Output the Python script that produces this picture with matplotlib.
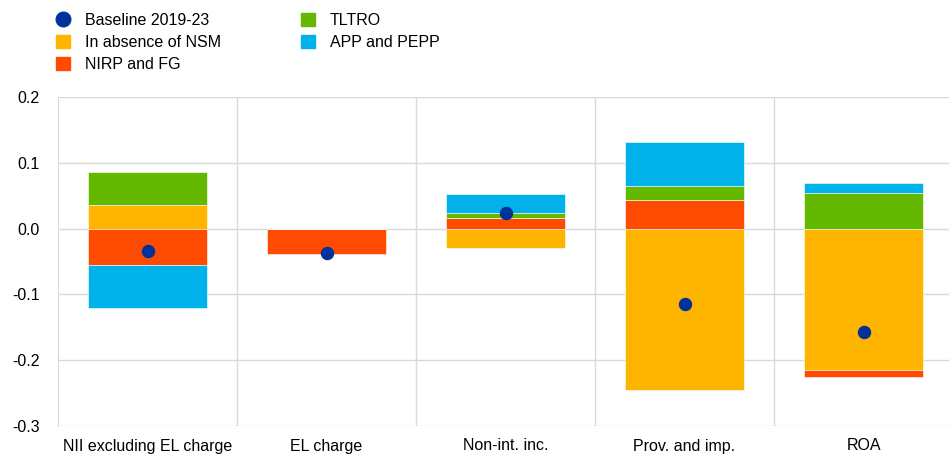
import matplotlib.pyplot as plt
from matplotlib.lines import Line2D
from matplotlib.patches import Patch
import numpy as np

plt.rcParams['font.family'] = ['Liberation Sans', 'DejaVu Sans']

categorias = ['NII excluding EL charge', 'EL charge', 'Non-int. inc.', 'Prov. and imp.', 'ROA']
baseline = [-0.034, -0.037, 0.023, -0.114, -0.157]
sem_nsm = [0.0365, 0.0, -0.029, -0.245, -0.2146]
nirp_fg = [-0.055, -0.038, 0.0157, 0.044, -0.0102]
tltro = [0.049, 0.0, 0.0076, 0.020, 0.054]
app_pepp = [-0.065, 0.0, 0.030, 0.068, 0.015]

series = [
    ('In absence of NSM', sem_nsm, '#FFB400'),
    ('NIRP and FG', nirp_fg, '#FF4B00'),
    ('TLTRO', tltro, '#65B800'),
    ('APP and PEPP', app_pepp, '#00B1EA'),
]

fig = plt.figure(figsize=(9.49, 4.55), dpi=100)
ax = fig.add_axes([58 / 949, 1 - 426 / 455, 895 / 949, 329 / 455])

x = np.arange(len(categorias))
base_pos = np.zeros(len(categorias))
base_neg = np.zeros(len(categorias))
for nome, vals, cor in series:
    vals = np.array(vals)
    fundo = np.where(vals >= 0, base_pos, base_neg)
    ax.bar(x, vals, bottom=fundo, width=0.665, color=cor, edgecolor='white',
           linewidth=0.4, zorder=2)
    base_pos = base_pos + np.clip(vals, 0, None)
    base_neg = base_neg + np.clip(vals, None, 0)

ax.scatter(x, baseline, s=75, color='#003299', zorder=3)

ax.set_xlim(-0.5, len(categorias) - 0.5)
ax.set_ylim(-0.3, 0.2)
ax.set_yticks(np.arange(-0.3, 0.21, 0.1))
ax.set_yticklabels([f'{v:.1f}' for v in np.arange(-0.3, 0.21, 0.1)])
ax.set_xticks(x)
ax.set_xticklabels(categorias)
ax.tick_params(length=0, labelsize=11.5, colors='black')
ax.tick_params(axis='y', pad=13)
ax.tick_params(axis='x', pad=9)

ax.grid(axis='y', color='#d9d9d9', linewidth=1, zorder=0)
for b in np.arange(0.5, len(categorias) - 0.5, 1):
    ax.axvline(b, color='#d9d9d9', linewidth=1, zorder=0)
for lado in ['top', 'right', 'bottom']:
    ax.spines[lado].set_visible(False)
ax.spines['left'].set_color('#d9d9d9')

handles = [Line2D([], [], marker='o', linestyle='none', color='#003299', markersize=10.5,
                  label='Baseline 2019-23')]
handles += [Patch(color=cor, label=nome) for nome, vals, cor in series]
fig.legend(handles=handles, ncol=2, loc='upper left', bbox_to_anchor=(50 / 949, 1 - 7 / 455),
           frameon=False, fontsize=11.5, handlelength=0.85, handleheight=0.85,
           handletextpad=0.95, columnspacing=5.0, labelspacing=0.43, borderaxespad=0)

fig.savefig('out.png', dpi=100)
